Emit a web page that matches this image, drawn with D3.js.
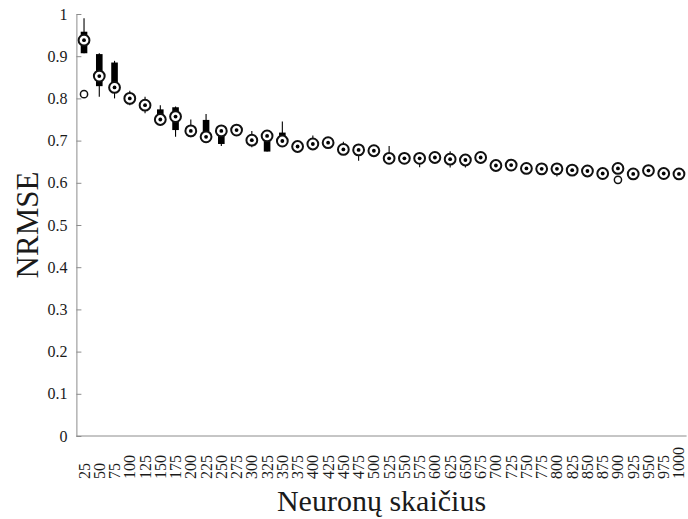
<!DOCTYPE html>
<html>
<head>
<meta charset="utf-8">
<script src="https://cdn.jsdelivr.net/npm/d3@7"></script>
<style>
  html, body { margin: 0; padding: 0; background: #fff; }
  svg { display: block; }
  text { font-family: "Liberation Serif", "Times New Roman", serif; fill: #1a1a1a; }
</style>
</head>
<body>
<svg id="chart" width="688" height="519"></svg>
<script>
// Number of reservoir neurons (x categories)
const neurons = d3.range(25, 1001, 25);

// Box statistics of NRMSE for each neuron count
const medians = [0.938, 0.853, 0.826, 0.800, 0.784, 0.750, 0.757, 0.723, 0.709, 0.723,
                 0.725, 0.701, 0.711, 0.699, 0.686, 0.692, 0.695, 0.679, 0.678, 0.676,
                 0.658, 0.658, 0.658, 0.660, 0.656, 0.654, 0.660, 0.641, 0.642, 0.634,
                 0.633, 0.633, 0.630, 0.628, 0.622, 0.634, 0.621, 0.629, 0.622, 0.621];
const q1 =      [0.907, 0.829, 0.820, 0.795, 0.778, 0.745, 0.725, 0.718, 0.703, 0.692,
                 0.720, 0.696, 0.674, 0.694, 0.682, 0.688, 0.691, 0.675, 0.672, 0.672,
                 0.654, 0.655, 0.654, 0.656, 0.652, 0.650, 0.656, 0.637, 0.638, 0.630,
                 0.629, 0.629, 0.626, 0.624, 0.618, 0.630, 0.617, 0.625, 0.618, 0.617];
const q3 =      [0.958, 0.905, 0.885, 0.806, 0.790, 0.774, 0.779, 0.728, 0.749, 0.727,
                 0.730, 0.706, 0.716, 0.719, 0.690, 0.696, 0.699, 0.683, 0.682, 0.680,
                 0.662, 0.662, 0.662, 0.664, 0.660, 0.658, 0.664, 0.645, 0.646, 0.638,
                 0.637, 0.637, 0.634, 0.632, 0.626, 0.638, 0.625, 0.633, 0.626, 0.625];
const whiskerLow =  [0.907, 0.804, 0.800, 0.784, 0.765, 0.735, 0.709, 0.708, 0.700, 0.687,
                     0.715, 0.684, 0.674, 0.690, 0.680, 0.684, 0.688, 0.672, 0.652, 0.670,
                     0.652, 0.652, 0.637, 0.654, 0.636, 0.636, 0.654, 0.635, 0.636, 0.628,
                     0.627, 0.615, 0.624, 0.622, 0.616, 0.628, 0.615, 0.623, 0.616, 0.615];
const whiskerHigh = [0.990, 0.907, 0.889, 0.818, 0.804, 0.784, 0.781, 0.750, 0.763, 0.737,
                     0.735, 0.723, 0.718, 0.745, 0.692, 0.712, 0.700, 0.697, 0.684, 0.682,
                     0.687, 0.664, 0.663, 0.666, 0.675, 0.660, 0.666, 0.647, 0.648, 0.640,
                     0.639, 0.639, 0.636, 0.634, 0.628, 0.640, 0.627, 0.635, 0.628, 0.627];
// Outliers: [neuron count, NRMSE]
const outliers = [[25, 0.810], [900, 0.607]];

const yTicks = [0, 0.1, 0.2, 0.3, 0.4, 0.5, 0.6, 0.7, 0.8, 0.9, 1];

const FONT = "Liberation Serif";
const svg = d3.select("#chart");
const plot = { left: 76.4, right: 686.6, top: 14, bottom: 436 };

const x = d3.scaleLinear().domain([0.5, neurons.length + 0.5]).range([plot.left, plot.right]);
const xPos = n => x(neurons.indexOf(n) + 1);
const y = d3.scaleLinear().domain([0, 1]).range([plot.bottom, plot.top]);

// Y axis with inward ticks
const yAxis = svg.append("g")
  .attr("transform", `translate(${plot.left},0)`)
  .call(d3.axisLeft(y).tickValues(yTicks).tickSizeInner(-5).tickSizeOuter(0).tickPadding(9)
    .tickFormat(d => d === 0 || d === 1 ? d3.format("d")(d) : d3.format(".1f")(d)));
yAxis.attr("font-family", FONT);
yAxis.select(".domain").attr("stroke", "#8c8c8c");
yAxis.selectAll(".tick line").attr("stroke", "#8c8c8c");
yAxis.selectAll(".tick text").attr("font-size", 16).attr("font-family", FONT).attr("fill", "#1a1a1a");

// X axis line
svg.append("line")
  .attr("x1", plot.left).attr("x2", plot.right)
  .attr("y1", plot.bottom).attr("y2", plot.bottom)
  .attr("stroke", "#8c8c8c").attr("stroke-width", 1);

// Rotated x tick labels
svg.append("g").selectAll("text").data(neurons).join("text")
  .attr("transform", d => `translate(${xPos(d) + 5.5},479) rotate(-90)`)
  .attr("text-anchor", "start")
  .attr("font-family", FONT)
  .attr("font-size", 16)
  .text(d => d);

// Boxes (compact style)
const g = svg.append("g");
neurons.forEach((n, i) => {
  const cx = xPos(n);
  g.append("line")
    .attr("x1", cx).attr("x2", cx)
    .attr("y1", y(whiskerLow[i])).attr("y2", y(whiskerHigh[i]))
    .attr("stroke", "#000").attr("stroke-width", 1.1);
  g.append("rect")
    .attr("x", cx - 3.3).attr("width", 6.6)
    .attr("y", y(q3[i])).attr("height", y(q1[i]) - y(q3[i]))
    .attr("fill", "#000");
});

// Median markers: ring with centre dot
neurons.forEach((n, i) => {
  const cx = xPos(n), cy = y(medians[i]);
  g.append("circle").attr("cx", cx).attr("cy", cy).attr("r", 5.4)
    .attr("fill", "#fff").attr("stroke", "#111").attr("stroke-width", 2);
  g.append("circle").attr("cx", cx).attr("cy", cy).attr("r", 1.9).attr("fill", "#000");
});

// Outliers
g.selectAll(".outlier").data(outliers).join("circle")
  .attr("class", "outlier")
  .attr("cx", d => xPos(d[0])).attr("cy", d => y(d[1])).attr("r", 3.6)
  .attr("fill", "none").attr("stroke", "#111").attr("stroke-width", 1.5);

// Axis titles
svg.append("text")
  .attr("x", (plot.left + plot.right) / 2).attr("y", 511)
  .attr("text-anchor", "middle").attr("font-family", FONT).attr("font-size", 30)
  .text("Neuronų skaičius");
svg.append("text")
  .attr("transform", `translate(38,${(plot.top + plot.bottom) / 2}) rotate(-90)`)
  .attr("text-anchor", "middle").attr("font-family", FONT).attr("font-size", 31)
  .text("NRMSE");
</script>
</body>
</html>
